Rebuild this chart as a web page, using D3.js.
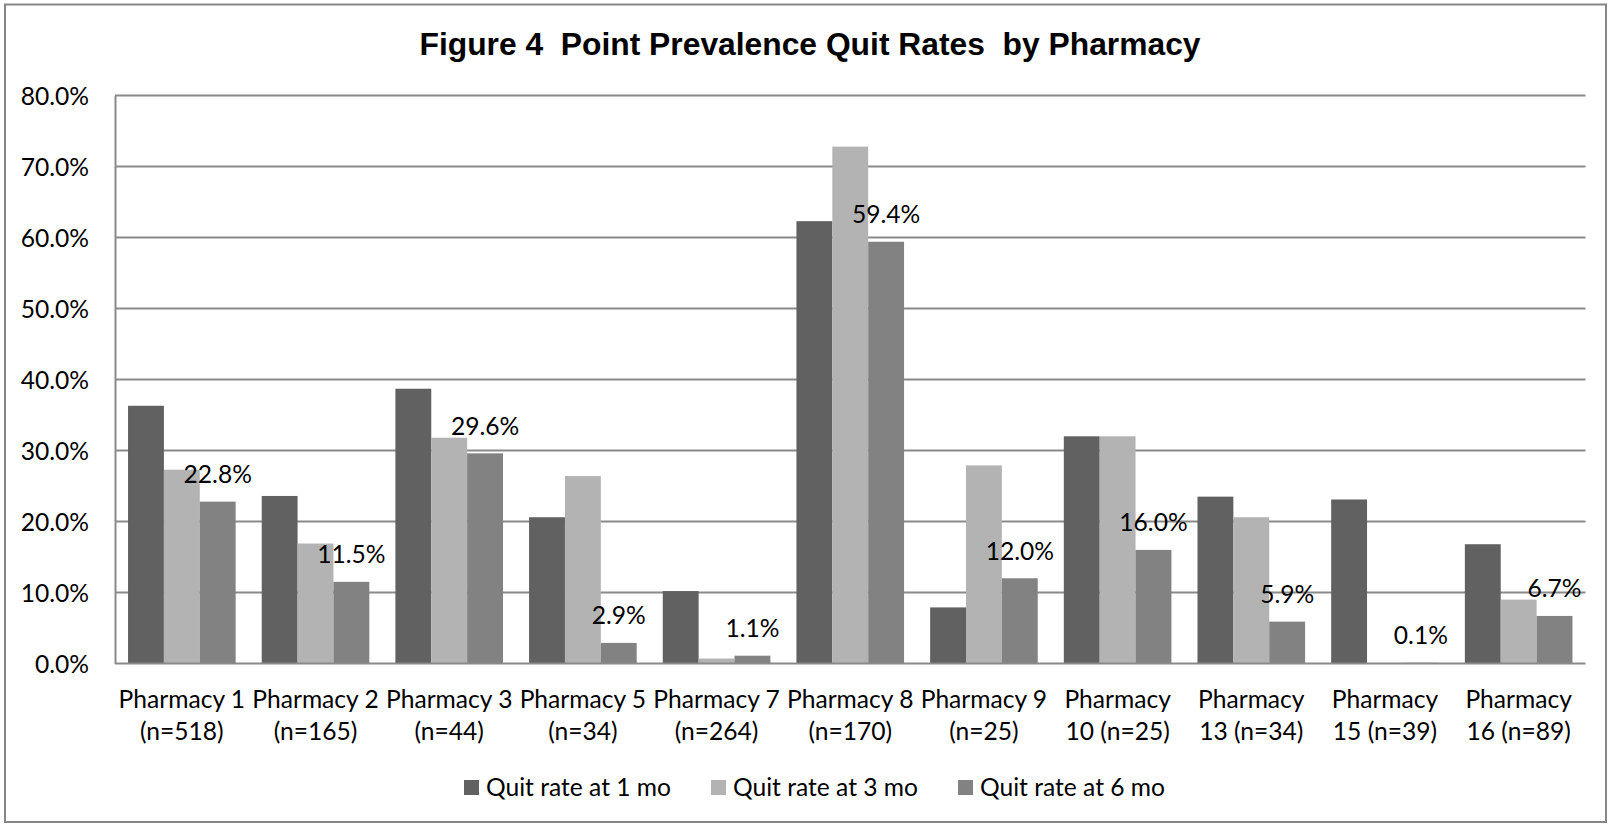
<!DOCTYPE html>
<html>
<head>
<meta charset="utf-8">
<script src="https://cdn.jsdelivr.net/npm/d3@7"></script>
<style>
  html, body { margin: 0; padding: 0; background: #fff; }
  svg { display: block; }
  .lbl { font-family: Lato, "Open Sans", sans-serif; font-size: 24.6px; fill: #000; }
</style>
</head>
<body>
<svg id="chart" width="1608" height="825"></svg>
<script>
// Point prevalence quit rates (%) per pharmacy at 1, 3 and 6 months
const categories = ["Pharmacy 1", "Pharmacy 2", "Pharmacy 3", "Pharmacy 5", "Pharmacy 7",
  "Pharmacy 8", "Pharmacy 9", "Pharmacy 10", "Pharmacy 13", "Pharmacy 15", "Pharmacy 16"];
const tickLabels = [
  ["Pharmacy 1", "(n=518)"], ["Pharmacy 2", "(n=165)"], ["Pharmacy 3", "(n=44)"],
  ["Pharmacy 5", "(n=34)"], ["Pharmacy 7", "(n=264)"], ["Pharmacy 8", "(n=170)"],
  ["Pharmacy 9", "(n=25)"], ["Pharmacy", "10 (n=25)"], ["Pharmacy", "13 (n=34)"],
  ["Pharmacy", "15 (n=39)"], ["Pharmacy", "16 (n=89)"]
];
const seriesNames = ["Quit rate at 1 mo", "Quit rate at 3 mo", "Quit rate at 6 mo"];
const quit1mo = [36.3, 23.6, 38.7, 20.6, 10.2, 62.3, 7.9, 32.0, 23.5, 23.1, 16.8];
const quit3mo = [27.3, 16.9, 31.8, 26.4, 0.7, 72.8, 27.9, 32.0, 20.6, 0, 9.0];
const quit6mo = [22.8, 11.5, 29.6, 2.9, 1.1, 59.4, 12.0, 16.0, 5.9, 0.1, 6.7];
const yTicks = [0, 10, 20, 30, 40, 50, 60, 70, 80];
const title = "Figure 4  Point Prevalence Quit Rates  by Pharmacy";

const seriesValues = [quit1mo, quit3mo, quit6mo];
const colors = ["#616161", "#b3b3b3", "#828282"];

const svg = d3.select("#chart");
const plot = { left: 115, right: 1585.5, top: 95.5, bottom: 663.5 };

// outer chart frame
svg.append("rect")
  .attr("x", 5).attr("y", 4.5).attr("width", 1601).attr("height", 817.5)
  .attr("fill", "#fff").attr("stroke", "#868686").attr("stroke-width", 2);

// title
svg.append("text")
  .attr("x", 810).attr("y", 55)
  .attr("text-anchor", "middle")
  .style("white-space", "pre")
  .style("font-family", "'Liberation Sans', Arial, sans-serif")
  .style("font-weight", "bold")
  .style("font-size", "31.8px")
  .text(title);

const y = d3.scaleLinear().domain([0, 80]).range([plot.bottom, plot.top]);
const x0 = d3.scaleBand().domain(categories).range([plot.left, plot.right])
  .paddingInner(0.195).paddingOuter(0.0975);
const x1 = d3.scaleBand().domain(seriesNames).range([0, x0.bandwidth()]);

// gridlines
svg.append("g")
  .selectAll("line").data(yTicks.filter(t => t > 0)).join("line")
  .attr("x1", plot.left).attr("x2", plot.right)
  .attr("y1", d => y(d)).attr("y2", d => y(d))
  .attr("stroke", "#8a8a8a").attr("stroke-width", 2);

// y axis
const yAxis = svg.append("g")
  .attr("transform", `translate(${plot.left},0)`)
  .call(d3.axisLeft(y).tickValues(yTicks).tickSize(0).tickPadding(26)
    .tickFormat(d => d.toFixed(1) + "%"));
yAxis.select(".domain").attr("stroke", "#8a8a8a").attr("stroke-width", 2);
yAxis.selectAll("text").attr("class", "lbl").attr("dy", "0.36em")
  .style("font-family", "Lato, 'Open Sans', sans-serif").style("font-size", "24.6px");

// bars
const groups = svg.append("g").selectAll("g").data(categories).join("g")
  .attr("transform", d => `translate(${x0(d)},0)`);
groups.selectAll("rect")
  .data((d, i) => seriesNames.map((s, k) => ({ s, k, v: seriesValues[k][i] })))
  .join("rect")
  .attr("x", d => x1(d.s))
  .attr("width", x1.bandwidth())
  .attr("y", d => y(d.v))
  .attr("height", d => y(0) - y(d.v))
  .attr("fill", d => colors[d.k]);

// x axis baseline
svg.append("line")
  .attr("x1", plot.left).attr("x2", plot.right)
  .attr("y1", plot.bottom).attr("y2", plot.bottom)
  .attr("stroke", "#8a8a8a").attr("stroke-width", 2);

// category labels (two lines)
const xl = svg.append("g").selectAll("text").data(categories).join("text")
  .attr("class", "lbl")
  .attr("text-anchor", "middle")
  .attr("x", d => x0(d) + x0.bandwidth() / 2)
  .attr("y", 707.5);
xl.selectAll("tspan").data((d, i) => tickLabels[i]).join("tspan")
  .attr("x", function () { return d3.select(this.parentNode).attr("x"); })
  .attr("dy", (d, j) => j === 0 ? 0 : 32.8)
  .text(d => d);

// data labels for the 6-month series
svg.append("g").selectAll("text").data(categories).join("text")
  .attr("class", "lbl")
  .attr("text-anchor", "middle")
  .attr("x", d => x0(d) + x1(seriesNames[2]) + x1.bandwidth() / 2)
  .attr("y", (d, i) => y(quit6mo[i]) - 18.5)
  .text((d, i) => quit6mo[i].toFixed(1) + "%");

// legend
const legend = svg.append("g");
let lx = 464;
seriesNames.forEach((s, k) => {
  legend.append("rect").attr("x", lx).attr("y", 780).attr("width", 15).attr("height", 15)
    .attr("fill", colors[k]);
  const t = legend.append("text").attr("class", "lbl").attr("x", lx + 22).attr("y", 796).text(s);
  lx = lx + 22 + t.node().getComputedTextLength() + 40;
});
</script>
</body>
</html>
